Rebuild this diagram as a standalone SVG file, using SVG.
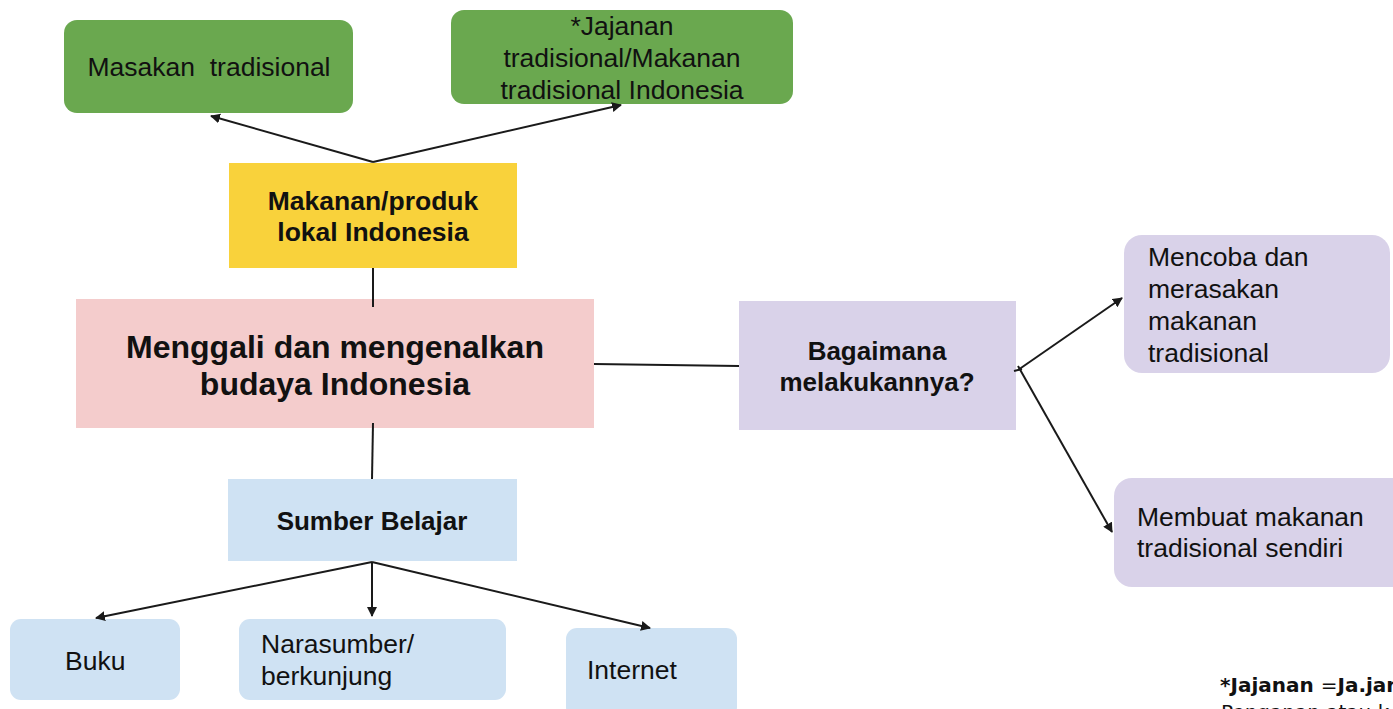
<svg xmlns="http://www.w3.org/2000/svg" width="1393" height="709" viewBox="0 0 1393 709">
<defs>
<marker id="ah" viewBox="0 0 10 10" refX="9" refY="5" markerWidth="10" markerHeight="10" markerUnits="userSpaceOnUse" orient="auto">
<path d="M0,0 L10,5 L0,10 z" fill="#1a1a1a"/>
</marker>
<style>
.t{font-family:"Liberation Sans",Arial,sans-serif;font-size:26.5px;fill:#111}
.b{font-family:"Liberation Sans",Arial,sans-serif;font-weight:bold;fill:#111}
.c{stroke:#1a1a1a;stroke-width:2;fill:none}
.a{marker-end:url(#ah)}
</style>
</defs>
<rect width="1393" height="709" fill="#ffffff"/>
<g id="masakan">
<rect x="64" y="20" width="289" height="93" rx="13" fill="#6aa84f"/>
<text class="t" x="209" y="76" text-anchor="middle" xml:space="preserve">Masakan  tradisional</text>
</g>
<g id="jajanan">
<rect x="451" y="10" width="342" height="94" rx="13" fill="#6aa84f"/>
<text class="t" x="622" y="35" text-anchor="middle">*Jajanan</text>
<text class="t" x="622" y="67" text-anchor="middle">tradisional/Makanan</text>
<text class="t" x="622" y="99" text-anchor="middle">tradisional Indonesia</text>
</g>
<g id="makanan">
<rect x="229" y="163" width="288" height="105" fill="#f9d23b"/>
<text class="b" x="373" y="210" font-size="26.5" text-anchor="middle">Makanan/produk</text>
<text class="b" x="373" y="241" font-size="26.5" text-anchor="middle">lokal Indonesia</text>
</g>
<g id="menggali">
<rect x="76" y="299" width="518" height="129" fill="#f4cccc"/>
<text class="b" x="335" y="358" font-size="32" text-anchor="middle">Menggali dan mengenalkan</text>
<text class="b" x="335" y="395" font-size="32" text-anchor="middle">budaya Indonesia</text>
</g>
<g id="bagaimana">
<rect x="739" y="301" width="277" height="129" fill="#d9d2e9"/>
<text class="b" x="877" y="360" font-size="26" text-anchor="middle">Bagaimana</text>
<text class="b" x="877" y="391" font-size="26" text-anchor="middle">melakukannya?</text>
</g>
<g id="sumber">
<rect x="228" y="479" width="289" height="82" fill="#cfe2f3"/>
<text class="b" x="372" y="530" font-size="26" text-anchor="middle">Sumber Belajar</text>
</g>
<g id="buku">
<rect x="10" y="619" width="170" height="81" rx="11" fill="#cfe2f3"/>
<text class="t" x="65" y="670">Buku</text>
</g>
<g id="narasumber">
<rect x="239" y="619" width="267" height="81" rx="11" fill="#cfe2f3"/>
<text class="t" x="261" y="653">Narasumber/</text>
<text class="t" x="261" y="685">berkunjung</text>
</g>
<g id="internet">
<rect x="566" y="628" width="171" height="90" rx="11" fill="#cfe2f3"/>
<text class="t" x="587" y="679">Internet</text>
</g>
<g id="mencoba">
<rect x="1124" y="235" width="266" height="138" rx="18" fill="#d9d2e9"/>
<text class="t" x="1148" y="266">Mencoba dan</text>
<text class="t" x="1148" y="298">merasakan</text>
<text class="t" x="1148" y="330">makanan</text>
<text class="t" x="1148" y="362">tradisional</text>
</g>
<g id="membuat">
<rect x="1114" y="478" width="300" height="109" rx="18" fill="#d9d2e9"/>
<text class="t" x="1137" y="526" font-size="23.5">Membuat makanan</text>
<text class="t" x="1137" y="557" font-size="23.5">tradisional sendiri</text>
</g>
<g id="connectors">
<line class="c a" x1="373" y1="162" x2="211" y2="116"/>
<line class="c a" x1="373" y1="162" x2="621" y2="105"/>
<line class="c" x1="373" y1="268" x2="373" y2="307"/>
<line class="c" x1="373" y1="423" x2="372" y2="479"/>
<line class="c" x1="594" y1="364" x2="739" y2="366"/>
<line class="c a" x1="1018" y1="370" x2="1122" y2="298"/>
<line class="c a" x1="1018" y1="366" x2="1112" y2="532"/>
<line class="c" x1="1014" y1="371" x2="1022" y2="369"/>
<line class="c a" x1="372" y1="562" x2="96" y2="618"/>
<line class="c a" x1="372" y1="562" x2="372" y2="616"/>
<line class="c a" x1="372" y1="562" x2="650" y2="628"/>
</g>
<g id="footnote">
<text x="1220" y="692" font-family="'DejaVu Sans', sans-serif" font-size="20" font-weight="bold" fill="#111">*Jajanan <tspan font-weight="normal">=</tspan>Ja.jan</text>
<text x="1221" y="719" font-family="'DejaVu Sans', sans-serif" font-size="20" fill="#111">Penganan atau k</text>
</g>
</svg>
